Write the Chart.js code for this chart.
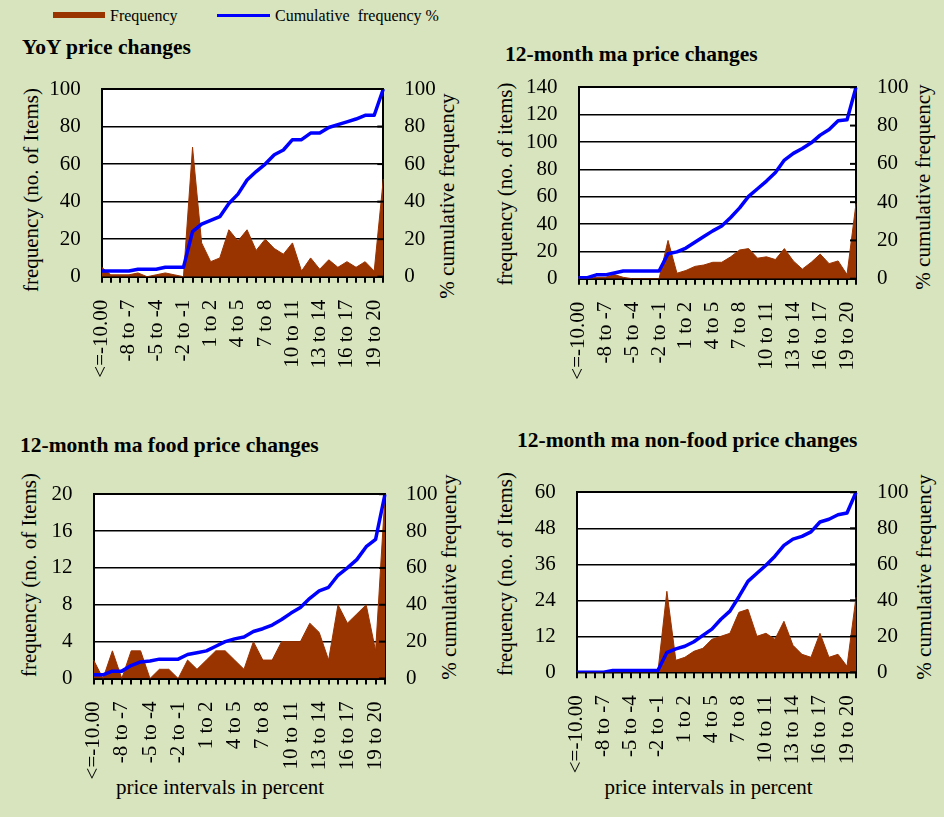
<!DOCTYPE html>
<html>
<head>
<meta charset="utf-8">
<script src="https://cdn.jsdelivr.net/npm/chart.js@4.4.1/dist/chart.umd.min.js"></script>
<style>
  html, body { margin: 0; padding: 0; }
  body {
    width: 944px; height: 817px; position: relative; overflow: hidden;
    background: #d7e4bd; font-family: 'Liberation Serif', 'Times New Roman', serif; color: #000;
  }
  canvas { position: absolute; }
  .txt { position: absolute; white-space: nowrap; }
  .ttl { font-size: 21.5px; line-height: 21.5px; font-weight: bold; }
  .leg { font-size: 16px; line-height: 16px; }
  .ax { font-size: 21px; line-height: 21px; }
  .rot { transform: translate(-50%, -50%) rotate(-90deg); }
  .xt { width: 300px; text-align: center; }
</style>
</head>
<body>
<!-- legend -->
<div style="position:absolute;left:53px;top:12px;width:52px;height:6px;background:#993300"></div>
<div class="txt leg" style="left:110px;top:8px">Frequency</div>
<div style="position:absolute;left:217px;top:13.5px;width:53px;height:3px;background:#0000ff"></div>
<div class="txt leg" style="left:275px;top:8px">Cumulative&nbsp; frequency %</div>

<!-- titles -->
<div class="txt ttl" style="left:22px;top:37px">YoY price changes</div>
<div class="txt ttl" style="left:505px;top:43.7px">12-month ma price changes</div>
<div class="txt ttl" style="left:20px;top:434.7px">12-month ma food price changes</div>
<div class="txt ttl" style="left:517px;top:430px">12-month ma non-food price changes</div>

<!-- axis titles -->
<div class="txt ax rot" style="left:31px;top:190px">frequency (no. of Items)</div>
<div class="txt ax rot" style="left:447px;top:195.5px">% cumulative frequency</div>
<div class="txt ax rot" style="left:505px;top:183.5px">frequency (no. of items)</div>
<div class="txt ax rot" style="left:923px;top:186.5px">% cumulative frequency</div>
<div class="txt ax rot" style="left:29px;top:575px">frequency (no. of Items)</div>
<div class="txt ax rot" style="left:448.5px;top:577px">% cumulative frequency</div>
<div class="txt ax rot" style="left:505px;top:574px">frequency (no. of Items)</div>
<div class="txt ax rot" style="left:924px;top:576.5px">% cumulative frequency</div>
<div class="txt ax xt" style="left:70px;top:777.4px">price intervals in percent</div>
<div class="txt ax xt" style="left:558.5px;top:777.4px">price intervals in percent</div>

<canvas id="c1"></canvas>
<canvas id="c2"></canvas>
<canvas id="c3"></canvas>
<canvas id="c4"></canvas>

<script>
// price intervals (categories on the x axis)
const categories = ['<=-10.00', '-10 to -9', '-9 to -8', '-8 to -7', '-7 to -6', '-6 to -5', '-5 to -4',
  '-4 to -3', '-3 to -2', '-2 to -1', '-1 to 0', '0 to 1', '1 to 2', '2 to 3', '3 to 4', '4 to 5',
  '5 to 6', '6 to 7', '7 to 8', '8 to 9', '9 to 10', '10 to 11', '11 to 12', '12 to 13', '13 to 14',
  '14 to 15', '15 to 16', '16 to 17', '17 to 18', '18 to 19', '19 to 20', '>20'];

// YoY price changes
const yoyFreq = [5, 1, 1, 1, 2, 0, 1, 2, 1, 0, 69, 18, 8, 10, 25, 19, 25, 14, 20, 15, 12, 18, 3, 10, 4, 9, 5, 8, 5, 8, 3, 52];
const yoyCum = [3, 3, 3, 3, 4, 4, 4, 5, 5, 5, 24, 28, 30, 32, 39, 44, 51.5, 56, 60, 65, 67.5, 73, 73, 76.5, 76.5, 79.5, 81, 82.5, 84, 86, 86, 100];

// 12-month ma price changes
const maFreq = [0, 0, 1, 1, 3, 1, 0, 0, 0, 0, 28, 4, 6, 9, 10, 12, 12, 16, 21, 22, 15, 16, 14, 22, 13, 7, 12, 18, 11, 13, 3, 55];
const maCum = [0.5, 0.5, 2, 2, 3, 4, 4, 4, 4, 4, 13, 14, 16, 19, 22, 25, 27.5, 32, 37, 43, 47, 51, 55.5, 62, 65.5, 68, 71, 75, 78, 82.5, 83, 100];

// 12-month ma food price changes
const foodFreq = [2, 0, 3, 0, 3, 3, 0, 1, 1, 0, 2, 1, 2, 3, 3, 2, 1, 4, 2, 2, 4, 4, 4, 6, 5, 2, 8, 6, 7, 8, 3, 20];
const foodCum = [2, 2, 4, 4, 7, 9, 9.5, 10.5, 10.5, 10.5, 13, 14, 15, 17.5, 20, 21.5, 22.5, 25.5, 27, 29, 32, 35.5, 38.5, 43.5, 47.5, 49.5, 56, 60, 64.5, 71.5, 75.5, 100];

// 12-month ma non-food price changes
const nonFoodFreq = [0, 0, 0, 0, 0, 0, 0, 0, 0, 0, 27, 4, 5, 7, 8, 11, 12, 13, 20, 21, 12, 13, 11, 17, 9, 6, 5, 13, 5, 6, 2, 25];
const nonFoodCum = [0, 0, 0, 0, 1, 1, 1, 1, 1, 1, 11, 13, 14.5, 17, 20.5, 24, 29.5, 34, 42, 50.5, 55, 59.5, 64.5, 70.5, 74, 75.5, 78, 83.5, 85, 87.5, 88.5, 100];

// axis ranges
const leftMax = [100, 140, 20, 60];
const leftStep = [20, 20, 4, 12];
const rightMax = 100;
const rightStep = 20;

const BROWN = '#993300';
const BLUE = '#0000ff';
const tickFont = { family: "'Liberation Serif', serif", size: 21 };

// white plot area + small inside tick marks on the right axis
const plotDecor = {
  id: 'plotDecor',
  beforeDraw(chart) {
    const a = chart.chartArea, ctx = chart.ctx;
    ctx.save();
    ctx.fillStyle = '#fff';
    ctx.fillRect(a.left, a.top, a.right - a.left, a.bottom - a.top);
    ctx.restore();
  },
  afterDraw(chart) {
    const s = chart.scales.y2, ctx = chart.ctx;
    ctx.save();
    ctx.strokeStyle = '#000';
    ctx.lineWidth = 2;
    s.ticks.forEach(t => {
      const y = s.getPixelForValue(t.value);
      ctx.beginPath();
      ctx.moveTo(s.left - 6, y);
      ctx.lineTo(s.left, y);
      ctx.stroke();
    });
    ctx.restore();
  }
};

// box: canvas rect + plot rect in page pixels
function makePanel(id, freq, cum, k, box) {
  const cv = document.getElementById(id);
  box.y = Math.round(box.T - 40);
  box.h = box.bottom - box.y;
  cv.width = box.w; cv.height = box.h;
  cv.style.left = box.x + 'px'; cv.style.top = box.y + 'px';
  cv.style.width = box.w + 'px'; cv.style.height = box.h + 'px';

  new Chart(cv, {
    type: 'line',
    data: {
      labels: categories,
      datasets: [
        {
          label: 'Cumulative frequency %',
          data: cum,
          yAxisID: 'y2',
          borderColor: BLUE,
          borderWidth: 3.5,
          borderJoinStyle: 'round',
          pointRadius: 0,
          fill: false,
          tension: 0,
          order: 1
        },
        {
          label: 'Frequency',
          data: freq,
          yAxisID: 'y',
          borderColor: BROWN,
          backgroundColor: BROWN,
          borderWidth: 1,
          pointRadius: 0,
          fill: 'origin',
          tension: 0,
          order: 2
        }
      ]
    },
    options: {
      responsive: false,
      animation: false,
      layout: { padding: { top: box.T - box.y, left: 0, right: 0, bottom: 0 } },
      plugins: { legend: { display: false }, tooltip: { enabled: false } },
      scales: {
        x: {
          offset: false,
          grid: { drawOnChartArea: false, drawTicks: true, tickLength: 6, color: '#000', lineWidth: 2 },
          border: { color: '#000', width: 2 },
          ticks: {
            autoSkip: false, minRotation: 90, maxRotation: 90, padding: 17,
            color: '#000', font: tickFont,
            callback: function (value, index) {
              return index % 3 === 0 ? this.getLabelForValue(value) : '';
            }
          },
          afterFit: s => { s.height = box.y + box.h - box.B; }
        },
        y: {
          position: 'left',
          min: 0, max: leftMax[k],
          grid: {
            color: '#000', drawTicks: false,
            lineWidth: c => (c.tick && c.tick.value === leftMax[k]) ? 2 : 1.5
          },
          border: { color: '#000', width: 2 },
          ticks: { stepSize: leftStep[k], autoSkip: false, padding: 21, color: '#000', font: tickFont },
          afterFit: s => { s.width = box.L - box.x; }
        },
        y2: {
          position: 'right',
          min: 0, max: rightMax,
          grid: { drawOnChartArea: false, drawTicks: false },
          border: { color: '#000', width: 2 },
          ticks: { stepSize: rightStep, autoSkip: false, padding: 21, color: '#000', font: tickFont },
          afterFit: s => { s.width = box.x + box.w - box.R; }
        }
      }
    },
    plugins: [plotDecor]
  });
}

makePanel('c1', yoyFreq, yoyCum, 0, { x: 0, w: 472, bottom: 420, L: 101.7, R: 383.3, T: 89, B: 276.7 });
makePanel('c2', maFreq, maCum, 1, { x: 472, w: 472, bottom: 420, L: 578.5, R: 856, T: 87.3, B: 278.7 });
makePanel('c3', foodFreq, foodCum, 2, { x: 0, w: 472, bottom: 817, L: 93.6, R: 385, T: 494.2, B: 678.5 });
makePanel('c4', nonFoodFreq, nonFoodCum, 3, { x: 472, w: 472, bottom: 817, L: 576.8, R: 856, T: 492.3, B: 672.3 });
</script>
</body>
</html>
